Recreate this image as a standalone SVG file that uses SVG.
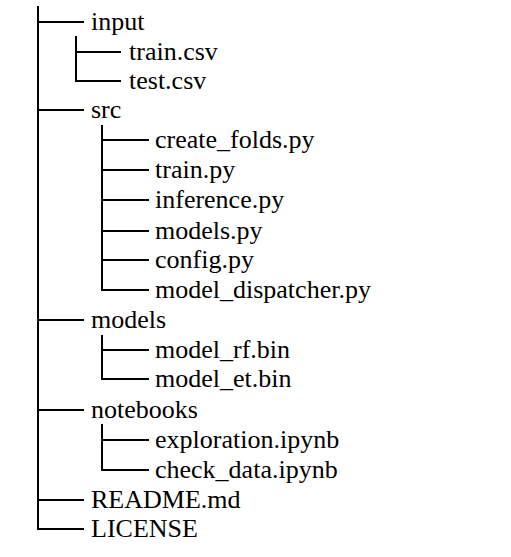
<svg xmlns="http://www.w3.org/2000/svg" width="511" height="557" viewBox="0 0 511 557">
<style>
.c{stroke:#000;stroke-width:2;fill:none;stroke-linecap:square}
.t{font-family:'Liberation Serif','Times New Roman',serif;font-size:26px;fill:#000}
</style>
<rect width="511" height="557" fill="#fff"/>
<g id="connectors">
<path class="c" d="M38 7V529H83"/>
<path class="c" d="M38 22H83M38 110H83M38 320H83M38 410H83M38 500H83"/>
<path class="c" d="M76 37V81H120M76 52H120"/>
<path class="c" d="M102 126V290H148M102 140H148M102 170H148M102 200H148M102 231H148M102 260H148"/>
<path class="c" d="M102 336V379H148M102 350H148"/>
<path class="c" d="M102 425V470H148M102 440H148"/>
</g>
<g class="t">
<g id="input"><text x="91" y="30">input</text></g>
<g id="train_csv"><text x="129" y="60">train.csv</text></g>
<g id="test_csv"><text x="129" y="89">test.csv</text></g>
<g id="src"><text x="91" y="118">src</text></g>
<g id="create_folds"><text x="155" y="148">create_folds.py</text></g>
<g id="train_py"><text x="155" y="178">train.py</text></g>
<g id="inference"><text x="155" y="208">inference.py</text></g>
<g id="models_py"><text x="155" y="239">models.py</text></g>
<g id="config"><text x="155" y="268">config.py</text></g>
<g id="model_dispatcher"><text x="155" y="298">model_dispatcher.py</text></g>
<g id="models"><text x="91" y="328">models</text></g>
<g id="model_rf"><text x="155" y="358">model_rf.bin</text></g>
<g id="model_et"><text x="155" y="387">model_et.bin</text></g>
<g id="notebooks"><text x="91" y="418">notebooks</text></g>
<g id="exploration"><text x="155" y="448">exploration.ipynb</text></g>
<g id="check_data"><text x="155" y="478">check_data.ipynb</text></g>
<g id="readme"><text x="91" y="508">README.md</text></g>
<g id="license"><text x="91" y="537">LICENSE</text></g>
</g>
</svg>
